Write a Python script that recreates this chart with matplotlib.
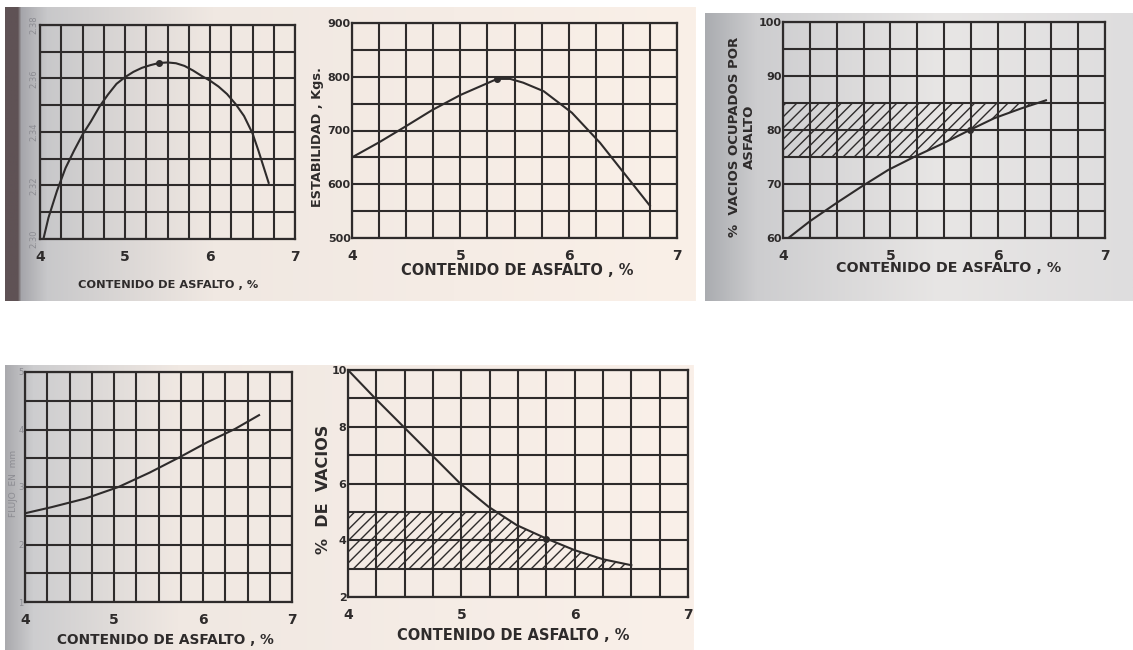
"""Curvas Marshall: cinco graficos contra contenido de asfalto, copiados de una pagina escaneada."""
import numpy as np
import matplotlib
matplotlib.use("Agg")
import matplotlib.pyplot as plt

plt.rcParams["font.family"] = ["DejaVu Sans"]
plt.rcParams["hatch.linewidth"] = 1.0

W, H = 1133, 650
INK = "#2e2b2b"
FAINT = "#8c8c92"

# --- datos --------------------------------------------------------------
asfalto_ticks = [4, 5, 6, 7]

# 1) peso unitario (etiquetas casi ilegibles en el escaneo)
x_peso = [4.04, 4.10, 4.20, 4.30, 4.40, 4.50, 4.60, 4.70, 4.80, 4.90, 5.00, 5.10, 5.20, 5.30,
          5.40, 5.50, 5.60, 5.70, 5.80, 5.90, 6.00, 6.10, 6.20, 6.30, 6.40, 6.50, 6.57, 6.63, 6.69]
y_peso = [2.3000, 2.3080, 2.3180, 2.3265, 2.3330, 2.3390, 2.3440, 2.3495, 2.3540, 2.3580,
          2.3605, 2.3625, 2.3640, 2.3650, 2.3658, 2.3660, 2.3657, 2.3647, 2.3630, 2.3610,
          2.3592, 2.3570, 2.3542, 2.3505, 2.3460, 2.3395, 2.3330, 2.3270, 2.3210]
peso_ticks = [2.30, 2.32, 2.34, 2.36, 2.38]
punto_peso = (5.40, 2.3658)

# 2) estabilidad, Kgs
x_estab = [4.0, 4.25, 4.49, 4.74, 5.0, 5.25, 5.34, 5.46, 5.58, 5.77, 6.03, 6.29, 6.51, 6.75]
y_estab = [650, 678, 707, 738, 766, 788, 796, 796, 789, 773, 733, 677, 621, 560]
estab_ticks = [500, 600, 700, 800, 900]
punto_estab = (5.34, 796)

# 3) % vacios ocupados por asfalto
x_vfa = [4.05, 4.25, 4.5, 4.73, 4.98, 5.23, 5.49, 5.74, 5.97, 6.22, 6.45]
y_vfa = [60, 63.1, 66.5, 69.5, 72.6, 75.1, 77.5, 80.0, 82.2, 84.0, 85.5]
vfa_ticks = [60, 70, 80, 90, 100]
vfa_banda = (75, 85)
punto_vfa = (5.74, 80)

# 4) flujo
x_flujo = [4.02, 4.3, 4.68, 5.05, 5.4, 5.74, 6.05, 6.36, 6.63]
y_flujo = [2.55, 2.65, 2.8, 3.0, 3.25, 3.52, 3.78, 4.01, 4.25]
flujo_ticks = [1, 2, 3, 4, 5]

# 5) % de vacios
x_vacios = [4.0, 4.24, 4.49, 4.74, 4.99, 5.24, 5.49, 5.75, 6.0, 6.25, 6.5]
y_vacios = [10, 9.0, 8.0, 7.0, 6.0, 5.18, 4.53, 4.06, 3.65, 3.33, 3.12]
vacios_ticks = [2, 4, 6, 8, 10]
vacios_banda = (3, 5)
punto_vacios = (5.75, 4.06)

XLABEL = "CONTENIDO DE ASFALTO , %"


def frac(l, t, r, b):
    return [l / W, 1 - b / H, (r - l) / W, (b - t) / H]


def ftext(x, y, s, **kw):
    fig.text(x / W, 1 - y / H, s, **kw)


def paper(ax, x0, x1, y0, y1, stops):
    pos = np.array([s[0] for s in stops])
    cols = np.array([s[1] for s in stops], dtype=float) / 255
    u = np.linspace(0, 1, 400)
    row = np.stack([np.interp(u, pos, cols[:, k]) for k in range(3)], axis=1)
    ax.imshow(row[None, :, :], extent=(x0, x1, y1, y0), aspect="auto",
              interpolation="bilinear", zorder=0)


def panel(box, ylim, ystep, yticks, faint=False, label_size=8):
    ax = fig.add_axes(frac(*box))
    ax.set_facecolor("none")
    ax.set_xlim(4, 7)
    ax.set_ylim(*ylim)
    ax.set_xticks(asfalto_ticks)
    ax.set_xticks(np.arange(4, 7.01, 0.25), minor=True)
    ax.set_yticks(yticks)
    ax.set_yticks(np.arange(ylim[0], ylim[1] + ystep / 2, ystep), minor=True)
    ax.grid(which="both", color=INK, lw=1.5)
    ax.set_axisbelow(True)
    ax.tick_params(which="both", length=0)
    ax.tick_params(axis="x", pad=8, labelsize=10, labelcolor=INK)
    col = FAINT if faint else INK
    ax.tick_params(axis="y", pad=1, labelsize=label_size, labelcolor=col)
    for lab in ax.get_xticklabels() + ax.get_yticklabels():
        lab.set_fontweight("bold")
    if faint:
        for lab in ax.get_yticklabels():
            lab.set_fontweight("normal")
    for sp in ax.spines.values():
        sp.set_color(INK)
        sp.set_linewidth(1.6)
    return ax


fig = plt.figure(figsize=(W / 100, H / 100), dpi=100)
fig.patch.set_facecolor("white")

bg = fig.add_axes([0, 0, 1, 1])
bg.set_xlim(0, W)
bg.set_ylim(H, 0)
bg.axis("off")
paper(bg, 5, 696, 7, 301, [(0, (95, 82, 85)), (0.018, (95, 82, 85)), (0.022, (165, 165, 170)),
                            (0.06, (200, 200, 202)), (0.3, (240, 232, 226)), (1, (250, 240, 232))])
paper(bg, 705, 1133, 13, 301, [(0, (170, 172, 176)), (0.12, (205, 205, 207)),
                                (0.55, (232, 230, 229)), (1, (222, 221, 222))])
paper(bg, 5, 694, 365, 650, [(0, (170, 170, 174)), (0.04, (205, 205, 207)),
                              (0.25, (240, 232, 226)), (1, (250, 240, 233))])

# 1) peso unitario
ax1 = panel((40, 25, 295, 239), (2.30, 2.38), 0.01, peso_ticks, faint=True, label_size=6)
ax1.set_yticklabels([f"{v:.2f}" for v in peso_ticks], rotation=90, va="center")
ax1.plot(x_peso, y_peso, color=INK, lw=1.5)
ax1.plot(*punto_peso, "o", color=INK, ms=4)
ftext(168, 285, XLABEL, ha="center", va="center", fontsize=8.2, fontweight="bold", color=INK)

# 2) estabilidad
ax2 = panel((352, 23, 677, 238), (500, 900), 50, estab_ticks)
ax2.plot(x_estab, y_estab, color=INK, lw=1.5)
ax2.plot(*punto_estab, "o", color=INK, ms=4)
ftext(317, 137, "ESTABILIDAD , Kgs.", rotation=90, ha="center", va="center",
      fontsize=9.3, fontweight="bold", color=INK)
ftext(517, 270, XLABEL, ha="center", va="center", fontsize=10.5, fontweight="bold", color=INK)

# 3) % vacios ocupados por asfalto
ax3 = panel((783, 22, 1105, 238), (60, 100), 5, vfa_ticks)
ax3.plot(x_vfa, y_vfa, color=INK, lw=1.5)
xx = np.linspace(4, x_vfa[-1], 300)
cv = np.interp(xx, x_vfa, y_vfa)
lo = np.maximum(vfa_banda[0], cv)
ax3.fill_between(xx, lo, vfa_banda[1], where=lo < vfa_banda[1], facecolor="none",
                 edgecolor=INK, hatch="///", lw=0)
ax3.plot(*punto_vfa, "o", color=INK, ms=4)
ftext(742, 137, "%  VACIOS OCUPADOS POR\nASFALTO", rotation=90, ha="center", va="center",
      multialignment="center", fontsize=9.5, fontweight="bold", color=INK, linespacing=1.1)
ftext(949, 268, XLABEL, ha="center", va="center", fontsize=10.3, fontweight="bold", color=INK)

# 4) flujo
ax4 = panel((25, 372, 292, 602), (1, 5), 0.5, flujo_ticks, faint=True, label_size=6)
ax4.plot(x_flujo, y_flujo, color=INK, lw=1.5)
ftext(13, 483, "FLUJO  EN  mm", rotation=90, ha="center", va="center",
      fontsize=6.5, color=FAINT)
ftext(165, 640, XLABEL, ha="center", va="center", fontsize=9.9, fontweight="bold", color=INK)

# 5) % de vacios
ax5 = panel((348, 370, 688, 597), (2, 10), 1, vacios_ticks)
ax5.plot(x_vacios, y_vacios, color=INK, lw=1.5)
xx = np.linspace(4, x_vacios[-1], 300)
cv = np.interp(xx, x_vacios, y_vacios)
hi = np.minimum(vacios_banda[1], cv)
ax5.fill_between(xx, vacios_banda[0], hi, where=hi > vacios_banda[0], facecolor="none",
                 edgecolor=INK, hatch="///", lw=0)
ax5.plot(*punto_vacios, "o", color=INK, ms=4)
ftext(324, 489, "%  DE  VACIOS", rotation=90, ha="center", va="center",
      fontsize=11.5, fontweight="bold", color=INK)
ftext(513, 635, XLABEL, ha="center", va="center", fontsize=10.5, fontweight="bold", color=INK)

fig.savefig("out.png", dpi=100)
